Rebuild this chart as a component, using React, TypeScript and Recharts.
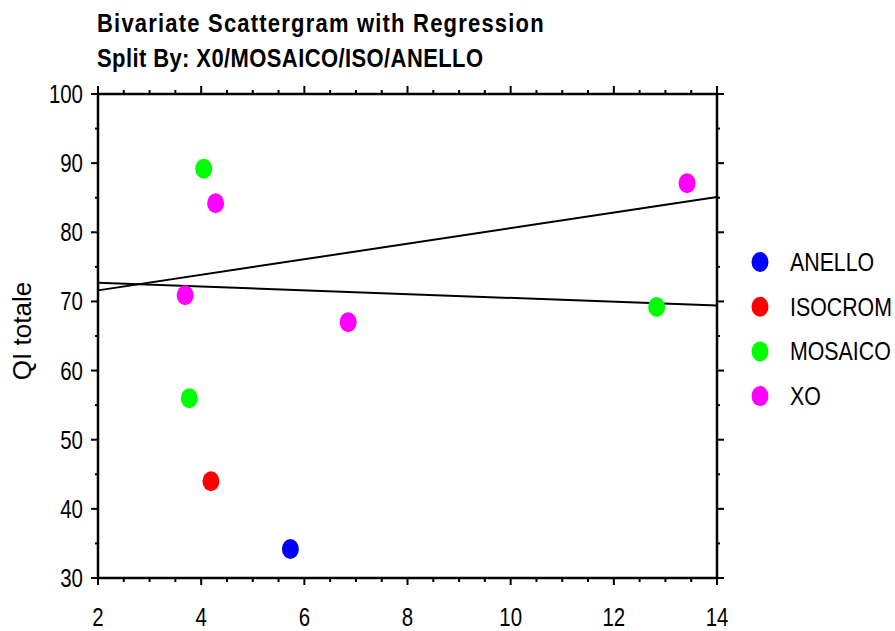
import React from "react";
import {
  ScatterChart,
  Scatter,
  XAxis,
  YAxis,
  Legend,
} from "recharts";

type Pt = { x: number; y: number };

const anello: Pt[] = [{ x: 5.73, y: 34.2 }];
const isocrom: Pt[] = [{ x: 4.19, y: 44.0 }];
const mosaico: Pt[] = [
  { x: 4.05, y: 89.2 },
  { x: 3.77, y: 56.0 },
  { x: 12.83, y: 69.2 },
];
const xo: Pt[] = [
  { x: 3.69, y: 70.9 },
  { x: 4.28, y: 84.2 },
  { x: 6.85, y: 67.0 },
  { x: 13.42, y: 87.1 },
];

// regression line end points
const xoFit: Pt[] = [
  { x: 2, y: 71.6 },
  { x: 14, y: 85.1 },
];
const mosaicoFit: Pt[] = [
  { x: 2, y: 72.7 },
  { x: 14, y: 69.4 },
];

const X_MAJOR = [2, 4, 6, 8, 10, 12, 14];
const X_TICKS = [
  2, 2.5, 3, 3.5, 4, 4.5, 5, 5.5, 6, 6.5, 7, 7.5, 8, 8.5, 9, 9.5, 10, 10.5, 11,
  11.5, 12, 12.5, 13, 13.5, 14,
];
const Y_MAJOR = [30, 40, 50, 60, 70, 80, 90, 100];
const Y_TICKS = [30, 35, 40, 45, 50, 55, 60, 65, 70, 75, 80, 85, 90, 95, 100];

const groups = [
  { name: "ANELLO", color: "#0000ff", data: anello },
  { name: "ISOCROM", color: "#ff0000", data: isocrom },
  { name: "MOSAICO", color: "#00ff00", data: mosaico },
  { name: "XO", color: "#ff00ff", data: xo },
];

const FONT = "'Liberation Sans', Arial, sans-serif";
const AXIS = { stroke: "#000", strokeWidth: 2.5 };
// source font is tall and narrow
const SQUEEZE = "scale(0.93,1.13)";

function BottomTick(props: any) {
  const { x, y, payload } = props;
  const major = X_MAJOR.includes(payload.value);
  return (
    <g>
      <line x1={x} y1={y} x2={x} y2={y + (major ? 7 : 4)} stroke="#000" strokeWidth={2} />
      {major && (
        <text
          transform={`translate(${x},${y + 48}) ${SQUEEZE}`}
          textAnchor="middle"
          fontSize={22}
          fontFamily={FONT}
          fill="#000"
        >
          {payload.value}
        </text>
      )}
    </g>
  );
}

function TopTick(props: any) {
  const { y, payload } = props;
  const x = payload.coordinate ?? props.x;
  const major = X_MAJOR.includes(payload.value);
  return <line x1={x} y1={y} x2={x} y2={y - (major ? 8 : 4)} stroke="#000" strokeWidth={2} />;
}

function LeftTick(props: any) {
  const { x, y, payload } = props;
  const major = Y_MAJOR.includes(payload.value);
  return (
    <g>
      <line x1={x - (major ? 7 : 3)} y1={y} x2={x} y2={y} stroke="#000" strokeWidth={2} />
      {major && (
        <text
          transform={`translate(${x - 15},${y + 9}) ${SQUEEZE}`}
          textAnchor="end"
          fontSize={22}
          fontFamily={FONT}
          fill="#000"
        >
          {payload.value}
        </text>
      )}
    </g>
  );
}

function RightTick(props: any) {
  const { x, y, payload } = props;
  const major = Y_MAJOR.includes(payload.value);
  return <line x1={x} y1={y} x2={x + (major ? 7 : 3)} y2={y} stroke="#000" strokeWidth={2} />;
}

const Dot = (color: string) => (p: any) =>
  <ellipse cx={p.cx} cy={p.cy} rx={8.5} ry={10} fill={color} />;

function LegendBox() {
  return (
    <svg width={150} height={175}>
      {groups.map((g, i) => (
        <g key={g.name}>
          <ellipse cx={15} cy={17 + i * 44.7} rx={8.5} ry={10} fill={g.color} />
          <text
            transform={`translate(45,${17 + i * 44.7 + 9}) scale(0.97,1.13)`}
            fontSize={22}
            fontFamily={FONT}
            fill="#000"
          >
            {g.name}
          </text>
        </g>
      ))}
    </svg>
  );
}

const titleStyle: React.CSSProperties = {
  position: "absolute",
  left: 97,
  fontSize: 22,
  fontWeight: "bold",
  lineHeight: "26px",
  whiteSpace: "nowrap",
  transform: "scaleY(1.13)",
  transformOrigin: "left center",
};

export default function App() {
  return (
    <div
      style={{
        position: "absolute",
        left: 0,
        top: 0,
        width: 895,
        height: 631,
        background: "#fff",
        fontFamily: FONT,
      }}
    >
      <div style={{ ...titleStyle, top: 11, letterSpacing: 1.2 }}>
        Bivariate Scattergram with Regression
      </div>
      <div style={{ ...titleStyle, top: 46, letterSpacing: 0.4 }}>
        Split By: X0/MOSAICO/ISO/ANELLO
      </div>
      <div
        style={{
          position: "absolute",
          left: 22,
          top: 331,
          transform: "translate(-50%, -50%) rotate(-90deg)",
          fontSize: 26,
          whiteSpace: "nowrap",
        }}
      >
        QI totale
      </div>
      <ScatterChart
        width={895}
        height={631}
        margin={{ top: 84, right: 168, bottom: 0, left: 0 }}
      >
        <XAxis
          xAxisId="b"
          dataKey="x"
          type="number"
          domain={[2, 14]}
          ticks={X_TICKS}
          interval={0}
          height={53}
          tickSize={0}
          tickMargin={0}
          tickLine={false}
          axisLine={AXIS}
          tick={<BottomTick />}
        />
        <XAxis
          xAxisId="t"
          orientation="top"
          dataKey="x"
          type="number"
          domain={[2, 14]}
          ticks={X_TICKS}
          interval={0}
          height={10}
          tickSize={0}
          tickMargin={0}
          tickLine={false}
          axisLine={AXIS}
          tick={<TopTick />}
        />
        <YAxis
          yAxisId="l"
          dataKey="y"
          type="number"
          domain={[30, 100]}
          ticks={Y_TICKS}
          interval={0}
          width={98}
          tickSize={0}
          tickMargin={0}
          tickLine={false}
          axisLine={AXIS}
          tick={<LeftTick />}
        />
        <YAxis
          yAxisId="r"
          orientation="right"
          dataKey="y"
          type="number"
          domain={[30, 100]}
          ticks={Y_TICKS}
          interval={0}
          width={10}
          tickSize={0}
          tickMargin={0}
          tickLine={false}
          axisLine={AXIS}
          tick={<RightTick />}
        />
        {/* XO fit drawn on the top/right axes (same scales) */}
        <Scatter
          xAxisId="t"
          yAxisId="r"
          data={xoFit}
          line={{ stroke: "#000", strokeWidth: 2 }}
          shape={() => <g />}
          legendType="none"
          isAnimationActive={false}
        />
        <Scatter
          xAxisId="b"
          yAxisId="l"
          data={mosaicoFit}
          line={{ stroke: "#000", strokeWidth: 2 }}
          shape={() => <g />}
          legendType="none"
          isAnimationActive={false}
        />
        {groups.map((g) => (
          <Scatter
            key={g.name}
            name={g.name}
            xAxisId="b"
            yAxisId="l"
            data={g.data}
            fill={g.color}
            shape={Dot(g.color)}
            isAnimationActive={false}
          />
        ))}
        <Legend
          layout="vertical"
          align="center"
          verticalAlign="middle"
          wrapperStyle={{ left: 745, top: 245, width: 150 }}
          content={() => <LegendBox />}
        />
      </ScatterChart>
    </div>
  );
}
